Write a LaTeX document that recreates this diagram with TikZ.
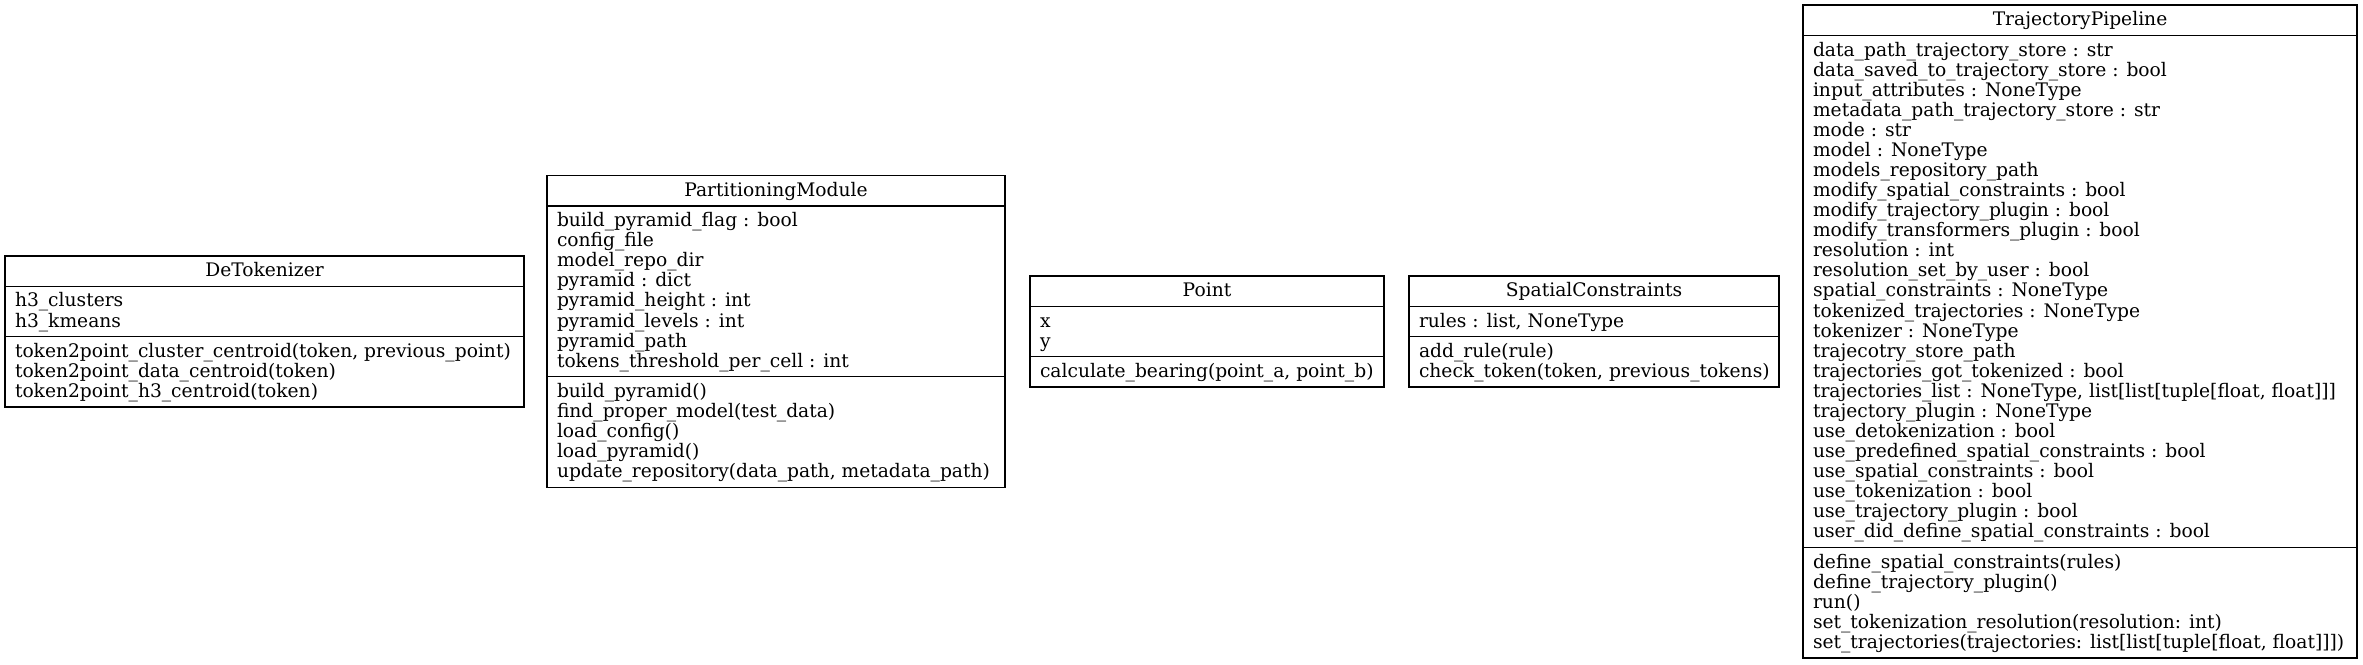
\documentclass[tikz,border=0pt]{standalone}
\usepackage{fontspec}
\setmainfont{DejaVu Serif}
\tikzset{
  classbox/.style={draw=black, line width=1pt, fill=none, inner sep=0pt, outer sep=0pt},
  sepline/.style={draw=black, line width=1pt},
  txt/.style={inner sep=0pt, outer sep=0pt, font=\fontsize{14}{16.8}\selectfont}
}
\newcommand\umlclass[8]{%
  \pgfmathsetmacro\ntot{1+#4+#5}%
  \pgfmathsetmacro\Hh{\ntot*20.07+30.6}%
  \pgfmathsetmacro\Tt{331.5-\Hh/2}%
  \pgfmathsetmacro\Sa{\Tt+30.27}%
  \pgfmathsetmacro\Sb{\Sa+#4*20.07+10.2}%
  \pgfmathsetmacro\Ww{(#3-#2)*0.75}%
  \pgfmathsetmacro\Hpt{\Hh*0.75}%
  \node[classbox, minimum width=\Ww pt, minimum height=\Hpt pt, anchor=north west] (#1) at (#2,\Tt) {};
  \draw[sepline] (#2,\Sa) -- (#3,\Sa);
  \draw[sepline] (#2,\Sb) -- (#3,\Sb);
  \node[txt, anchor=base] (#1-title) at ({(#2+#3)/2},\Tt+20.7) {#6};
  \foreach \t [count=\i from 0] in {#7} {
    \node[txt, anchor=base west] (#1-a\i) at (#2+10,\Sa+20.7+\i*20.07) {\t};
  }
  \foreach \t [count=\i from 0] in {#8} {
    \node[txt, anchor=base west] (#1-m\i) at (#2+10,\Sb+20.7+\i*20.07) {\t};
  }
}
\begin{document}
\begin{tikzpicture}[x=0.75pt, y=-0.75pt]
\fill[white] (0,0) rectangle (2363,664);
\useasboundingbox (0,0) rectangle (2363,664);

\umlclass{detok}{5}{524}{2}{3}{DeTokenizer}
  {{h3\_clusters},{h3\_kmeans}}
  {{token2point\_cluster\_centroid(token, previous\_point)},{token2point\_data\_centroid(token)},{token2point\_h3\_centroid(token)}}

\umlclass{part}{547}{1005}{8}{5}{PartitioningModule}
  {{build\_pyramid\_flag : bool},{config\_file},{model\_repo\_dir},{pyramid : dict},{pyramid\_height : int},{pyramid\_levels : int},{pyramid\_path},{tokens\_threshold\_per\_cell : int}}
  {{build\_pyramid()},{find\_proper\_model(test\_data)},{load\_config()},{load\_pyramid()},{update\_repository(data\_path, metadata\_path)}}

\umlclass{point}{1030}{1384}{2}{1}{Point}
  {{x},{y}}
  {{calculate\_bearing(point\_a, point\_b)}}

\umlclass{spatial}{1409}{1779}{1}{2}{SpatialConstraints}
  {{rules : list, NoneType}}
  {{add\_rule(rule)},{check\_token(token, previous\_tokens)}}

\umlclass{pipe}{1803}{2357}{25}{5}{TrajectoryPipeline}
  {{data\_path\_trajectory\_store : str},{data\_saved\_to\_trajectory\_store : bool},{input\_attributes : NoneType},{metadata\_path\_trajectory\_store : str},{mode : str},{model : NoneType},{models\_repository\_path},{modify\_spatial\_constraints : bool},{modify\_trajectory\_plugin : bool},{modify\_transformers\_plugin : bool},{resolution : int},{resolution\_set\_by\_user : bool},{spatial\_constraints : NoneType},{tokenized\_trajectories : NoneType},{tokenizer : NoneType},{trajecotry\_store\_path},{trajectories\_got\_tokenized : bool},{trajectories\_list : NoneType, list[list[tuple[float, float]]]},{trajectory\_plugin : NoneType},{use\_detokenization : bool},{use\_predefined\_spatial\_constraints : bool},{use\_spatial\_constraints : bool},{use\_tokenization : bool},{use\_trajectory\_plugin : bool},{user\_did\_define\_spatial\_constraints : bool}}
  {{define\_spatial\_constraints(rules)},{define\_trajectory\_plugin()},{run()},{set\_tokenization\_resolution(resolution: int)},{set\_trajectories(trajectories: list[list[tuple[float, float]]])}}
\end{tikzpicture}
\end{document}
